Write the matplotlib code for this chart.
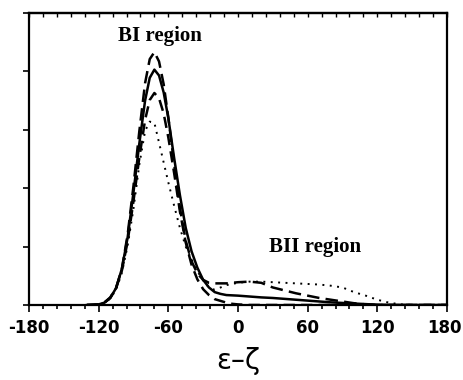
import matplotlib.pyplot as plt
import matplotlib.transforms as mtransforms
from matplotlib.ticker import MultipleLocator

# epsilon - zeta angle (degrees)
x = [-130, -120, -115, -110, -105, -100, -95, -90, -85, -80, -76, -72, -68,
     -64, -60, -55, -50, -45, -40, -35, -30, -25, -20, -15, -10, -5, 0, 10,
     20, 30, 40, 50, 60, 70, 80, 90, 100, 110, 120, 130, 140, 150, 180]

solid = [0, 0.01, 0.04, 0.12, 0.29, 0.62, 1.16, 1.93, 2.76, 3.50, 3.89, 4.03, 3.93,
         3.64, 3.20, 2.52, 1.88, 1.32, 0.92, 0.64, 0.43, 0.30, 0.22, 0.19, 0.17, 0.165, 0.16, 0.145,
         0.13, 0.12, 0.105, 0.09, 0.075, 0.06, 0.045, 0.035, 0.025, 0.015, 0.005, 0, 0, 0, 0]

long_dash = [0, 0.005, 0.04, 0.12, 0.29, 0.62, 1.21, 2.04, 2.97, 3.80, 4.21, 4.33, 4.17,
             3.78, 3.21, 2.42, 1.66, 1.10, 0.75, 0.54, 0.43, 0.38, 0.37, 0.37, 0.37, 0.38, 0.39, 0.40,
             0.38, 0.30, 0.25, 0.20, 0.16, 0.12, 0.09, 0.06, 0.03, 0.01, 0, 0, 0, 0, 0]

short_dash = [0, 0.01, 0.045, 0.13, 0.29, 0.59, 1.09, 1.78, 2.52, 3.17, 3.51, 3.63, 3.54,
              3.28, 2.87, 2.26, 1.60, 1.07, 0.69, 0.44, 0.27, 0.17, 0.10, 0.07, 0.04, 0.02, 0.01, 0,
              0, 0, 0, 0, 0, 0, 0, 0, 0, 0, 0, 0, 0, 0, 0]

dotted = [0, 0.01, 0.04, 0.11, 0.26, 0.55, 1.02, 1.65, 2.40, 2.98, 3.14, 3.12, 2.78,
          2.44, 2.10, 1.70, 1.32, 1.00, 0.78, 0.58, 0.42, 0.30, 0.26, 0.30, 0.34, 0.36, 0.38, 0.40,
          0.40, 0.39, 0.38, 0.37, 0.36, 0.35, 0.33, 0.30, 0.22, 0.16, 0.09, 0.04, 0.01, 0, 0]

xtick_labels = ['-180', '-120', '-60', '0', '60', '120', '180']

fig = plt.figure(figsize=(4.63, 3.8), dpi=100)
ax = fig.add_axes([0.0626, 0.1974, 0.9028, 0.7684])

ax.plot(x, solid, color='black', lw=1.8)
ax.plot(x, long_dash, color='black', lw=1.8, dashes=(5, 2.5))
ax.plot(x, short_dash, color='black', lw=1.8, dashes=(4.5, 2.5))
ax.plot(x, dotted, color='black', lw=1.4, linestyle=(0, (1, 2.8)))

ax.set_xlim(-180, 180)
ax.set_ylim(0, 5)
ax.xaxis.set_minor_locator(MultipleLocator(12))
ax.yaxis.set_major_locator(MultipleLocator(1))
ax.set_yticklabels([])

for s in ax.spines.values():
    s.set_linewidth(1.6)

ax.tick_params(axis='x', which='both', direction='out', bottom=True, top=False,
               width=1.2, labelsize=12, pad=5)
ax.tick_params(axis='x', which='major', length=5)
ax.tick_params(axis='x', which='minor', length=3)
ax.tick_params(axis='y', which='major', direction='out', length=4, width=1.2, right=False)

# inward ticks along the top edge
top = ax.secondary_xaxis('top')
top.xaxis.set_major_locator(MultipleLocator(12))
top.tick_params(direction='in', length=3, width=1.0, labeltop=False)
top.spines['top'].set_linewidth(1.6)

ax.set_xticks(range(-180, 181, 60))
ax.set_xticklabels(xtick_labels, fontweight='bold')
# keep the last label inside the figure
last = ax.get_xticklabels()[-1]
last.set_transform(last.get_transform() + mtransforms.ScaledTranslation(-3 / 100, 0, fig.dpi_scale_trans))

ax.text(-67, 4.6, 'BI region', family='Liberation Serif', fontweight='bold',
        fontsize=15, ha='center', va='center')
ax.text(66, 1.0, 'BII region', family='Liberation Serif', fontweight='bold',
        fontsize=15, ha='center', va='center')

ax.set_xlabel('ε–ζ', fontsize=20, labelpad=7)

plt.savefig('out.png', dpi=100)
